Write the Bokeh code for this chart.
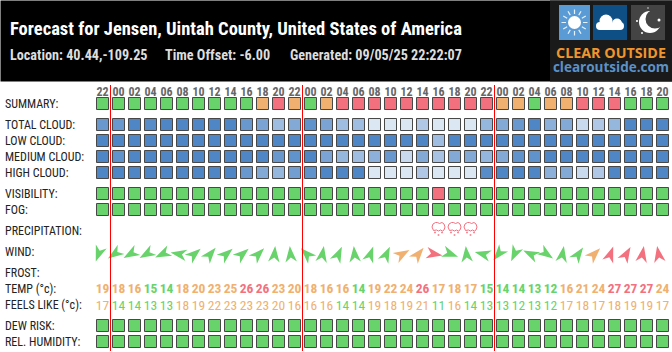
import numpy as np
from bokeh.plotting import figure
from bokeh.models import ColumnDataSource, Range1d
from bokeh.core.properties import value
from bokeh.embed import file_html
from bokeh.resources import INLINE

TITLE = "Forecast for Jensen, Uintah County, United States of America"
SUB = ["Location: 40.44,-109.25", "Time Offset: -6.00", "Generated: 09/05/25 22:22:07"]
hours = ["22","00","02","04","06","08","10","12","14","16","18","20","22","00","02","04","06","08","10","12","14","16","18","20","22","00","02","04","06","08","10","12","14","16","18","20"]
# g green, o orange, r red
summary = "gggggggggg" + "oro" + "go" + "rrrrrrrrrr" + "oogoo" + "rrr" + "ggg"
total_cloud = [85,85,100,95,100,100,100,100,100,85,75,55,70,90,75,55,55,20,20,20,45,20,20,20,60,70,85,100,65,70,30,45,60,100,100,100]
low_cloud = [100]*21 + [55] + [100]*14
medium_cloud = [100,90,100,100,100,100,100,100,100,100,100,85,90,100,75,60,55,65,85,30,70,50,70,70,60,70,90,90,100,100,100,100,100,100,100,100]
high_cloud = [100,100,100,100,100,100,100,100,100,85,70,60,80,90,100,100,100,20,20,20,45,20,20,20,95,100,100,100,65,70,30,45,100,100,100,100]
visibility = "g"*21 + "r" + "g"*14
fog = "g"*36
dew = "g"*36
humidity = "g"*36
temp = [19,18,16,15,14,18,20,23,25,26,26,23,20,18,16,16,14,19,22,24,26,17,18,17,15,14,14,13,12,16,21,24,27,27,27,24]
feels = [17,14,14,13,13,18,19,22,23,23,23,20,16,16,16,14,14,19,18,19,21,11,16,14,13,13,12,13,12,17,18,17,18,19,19,17]
wind_dir = [200,235,240,240,245,280,50,40,50,50,45,5,355,315,10,25,355,20,25,60,40,100,110,355,285,220,205,295,125,10,35,45,20,30,10,350]
wind_col = "ggggggggggggggggggg" + "oo" + "r" + "gggggggggg"[:9] + "o" + "rrrr"
precip_cols = [21,22,23]
row_labels = {"SUMMARY:":103.5,"TOTAL CLOUD:":124.5,"LOW CLOUD:":140.5,"MEDIUM CLOUD:":156.5,"HIGH CLOUD:":172.5,"VISIBILITY:":193.5,"FOG:":209.5,
              "PRECIPITATION:":230.5,"WIND:":251.5,"FROST:":272.5,"TEMP (°c):":288.5,"FEELS LIKE (°c):":304.5,"DEW RISK:":325.5,"REL. HUMIDITY:":341.5}

GREEN, ORANGE, RED = "#68d36b", "#f0b070", "#f3717f"
COL = {"g":GREEN,"o":ORANGE,"r":RED}
BLUE = "#4f86c6"
EDGE = "#484848"
COND = value("Roboto Condensed")

p = figure(width=672, height=352, x_range=Range1d(0.5,672.5), y_range=Range1d(352.5,0.5),
           output_backend="svg", toolbar_location=None, min_border=0, outline_line_color=None)
p.axis.visible = False
p.grid.visible = False
p.background_fill_color = "white"
p.border_fill_color = "white"

cx = [102.5 + 16*i for i in range(len(hours))]

# header
p.quad(left=[0],right=[673],top=[0],bottom=[81.5],fill_color="black",line_color=None)
p.text([10],[29],text=[TITLE],text_font=COND,text_font_style="bold",text_font_size="18.5px",text_color="white",text_baseline="middle")
for x,t in zip([10,165,290],SUB):
    p.text([x],[55],text=[t],text_font=COND,text_font_style="bold",text_font_size="14.2px",text_color="#dddddd",text_baseline="middle")

# logo
p.quad(left=[550],right=[673],top=[0],bottom=[81.5],fill_color="#1a1a1a",line_color=None)
p.quad(left=[559,593,631],right=[590,627,665],top=[5,5,5],bottom=[40,40,40],
       fill_color=["#5b9bd5","#0e4f85","#444444"],line_color=None)
ang = np.deg2rad(np.arange(0,360,30))
p.multi_line([[574.5+8.5*np.cos(a),574.5+13*np.cos(a)] for a in ang],[[22.5+8.5*np.sin(a),22.5+13*np.sin(a)] for a in ang],line_color="#e8f2fb",line_width=1.2)
p.circle([574.5],[22.5],radius=6.5,fill_color="white",line_color=None)
p.circle([606,617,600,620,610],[21,23.5,26,26,26],radius=[6.5,5,4,4,4],fill_color="white",line_color=None)
p.quad(left=[600],right=[620],top=[24],bottom=[30],fill_color="white",line_color=None)
p.circle([650],[22],radius=11,fill_color="white",line_color=None)
p.circle([655],[19],radius=9.5,fill_color="#444444",line_color=None)
p.circle([659,637,642,648],[20,21,33,8],radius=[1.5,1,1,.7],fill_color="white",line_color=None)
p.text([611],[52],text=["CLEAR OUTSIDE"],text_font=value("Open Sans"),text_font_style="bold",text_font_size="14.3px",text_color="#f0952e",text_baseline="middle",text_align="center")
p.text([611],[67],text=["clearoutside.com"],text_font=value("Open Sans"),text_font_style="bold",text_font_size="13.5px",text_color="#5b92c8",text_baseline="middle",text_align="center")

# hour labels
p.text(cx,[91]*36,text=hours,text_font=COND,text_font_style="bold",text_font_size="12px",text_color="#666666",text_align="center",text_baseline="middle")

# row labels
p.text([5]*len(row_labels),list(row_labels.values()),text=list(row_labels.keys()),text_font=COND,text_font_size="12px",text_color="#222222",text_baseline="middle")

# cells
def cat_row(y,codes):
    p.rect(cx,[y]*36,width=12,height=12,fill_color=[COL[c] for c in codes],line_color=EDGE,line_width=1)
def cloud_row(y,vals):
    p.rect(cx,[y]*36,width=12,height=12,fill_color=BLUE,fill_alpha=[v/100 for v in vals],line_color=EDGE,line_width=1)
cat_row(103.5,summary)
cloud_row(124.5,total_cloud); cloud_row(140.5,low_cloud); cloud_row(156.5,medium_cloud); cloud_row(172.5,high_cloud)
cat_row(193.5,visibility); cat_row(209.5,fog); cat_row(325.5,dew); cat_row(341.5,humidity)

# precipitation icons
ox = np.array([-5,-6.5,-5.5,-3,-1,1,3.5,5.5,6.5,5.5,4,2,0,-2,-5])
oy = np.array([ 3.5, 0,-3,-4.5,-4.5,-3.5,-4.5,-3,0,3,4,3,4,3,3.5])
dx = [-3.5,0,3.5]; dy=[5.5,8,5.5]
for i in precip_cols:
    p.line(list(cx[i]+ox),list(227+oy),line_color=RED,line_width=1)
    p.rect([cx[i]+d for d in dx],[227+d for d in dy],width=1.6,height=1.6,fill_color=RED,line_color=None)

# wind arrows
L,W,N = 16,11.5,4.5
shape = np.array([[0,-L/2],[W/2,L/2],[0,L/2-N],[-W/2,L/2]])
xs,ys,cs=[],[],[]
for x,d,c in zip(cx,wind_dir,wind_col):
    a=np.deg2rad(d)
    rx = shape[:,0]*np.cos(a)-shape[:,1]*np.sin(a)
    ry = shape[:,0]*np.sin(a)+shape[:,1]*np.cos(a)
    xs.append(list(x-4+rx)); ys.append(list(254+ry)); cs.append(COL[c])
p.patches(xs,ys,fill_color=cs,line_color=None)

# temperatures
def tcol(v): return GREEN if v<=15 else (RED if v>=26 else ORANGE)
p.text(cx,[288.5]*36,text=[str(v) for v in temp],text_font=COND,text_font_style="bold",text_font_size="13.5px",text_color=[tcol(v) for v in temp],text_align="center",text_baseline="middle")
p.text(cx,[305]*36,text=[str(v) for v in feels],text_font=COND,text_font_size="13.5px",text_color=[tcol(v) for v in feels],text_align="center",text_baseline="middle")

# day boundaries
mx = [x-8 for x,h in zip(cx,hours) if h=="00"]
p.segment(mx,[85]*len(mx),mx,[351]*len(mx),line_color="#ff0000",line_width=1)

open("out.html","w").write(file_html(p,INLINE))
